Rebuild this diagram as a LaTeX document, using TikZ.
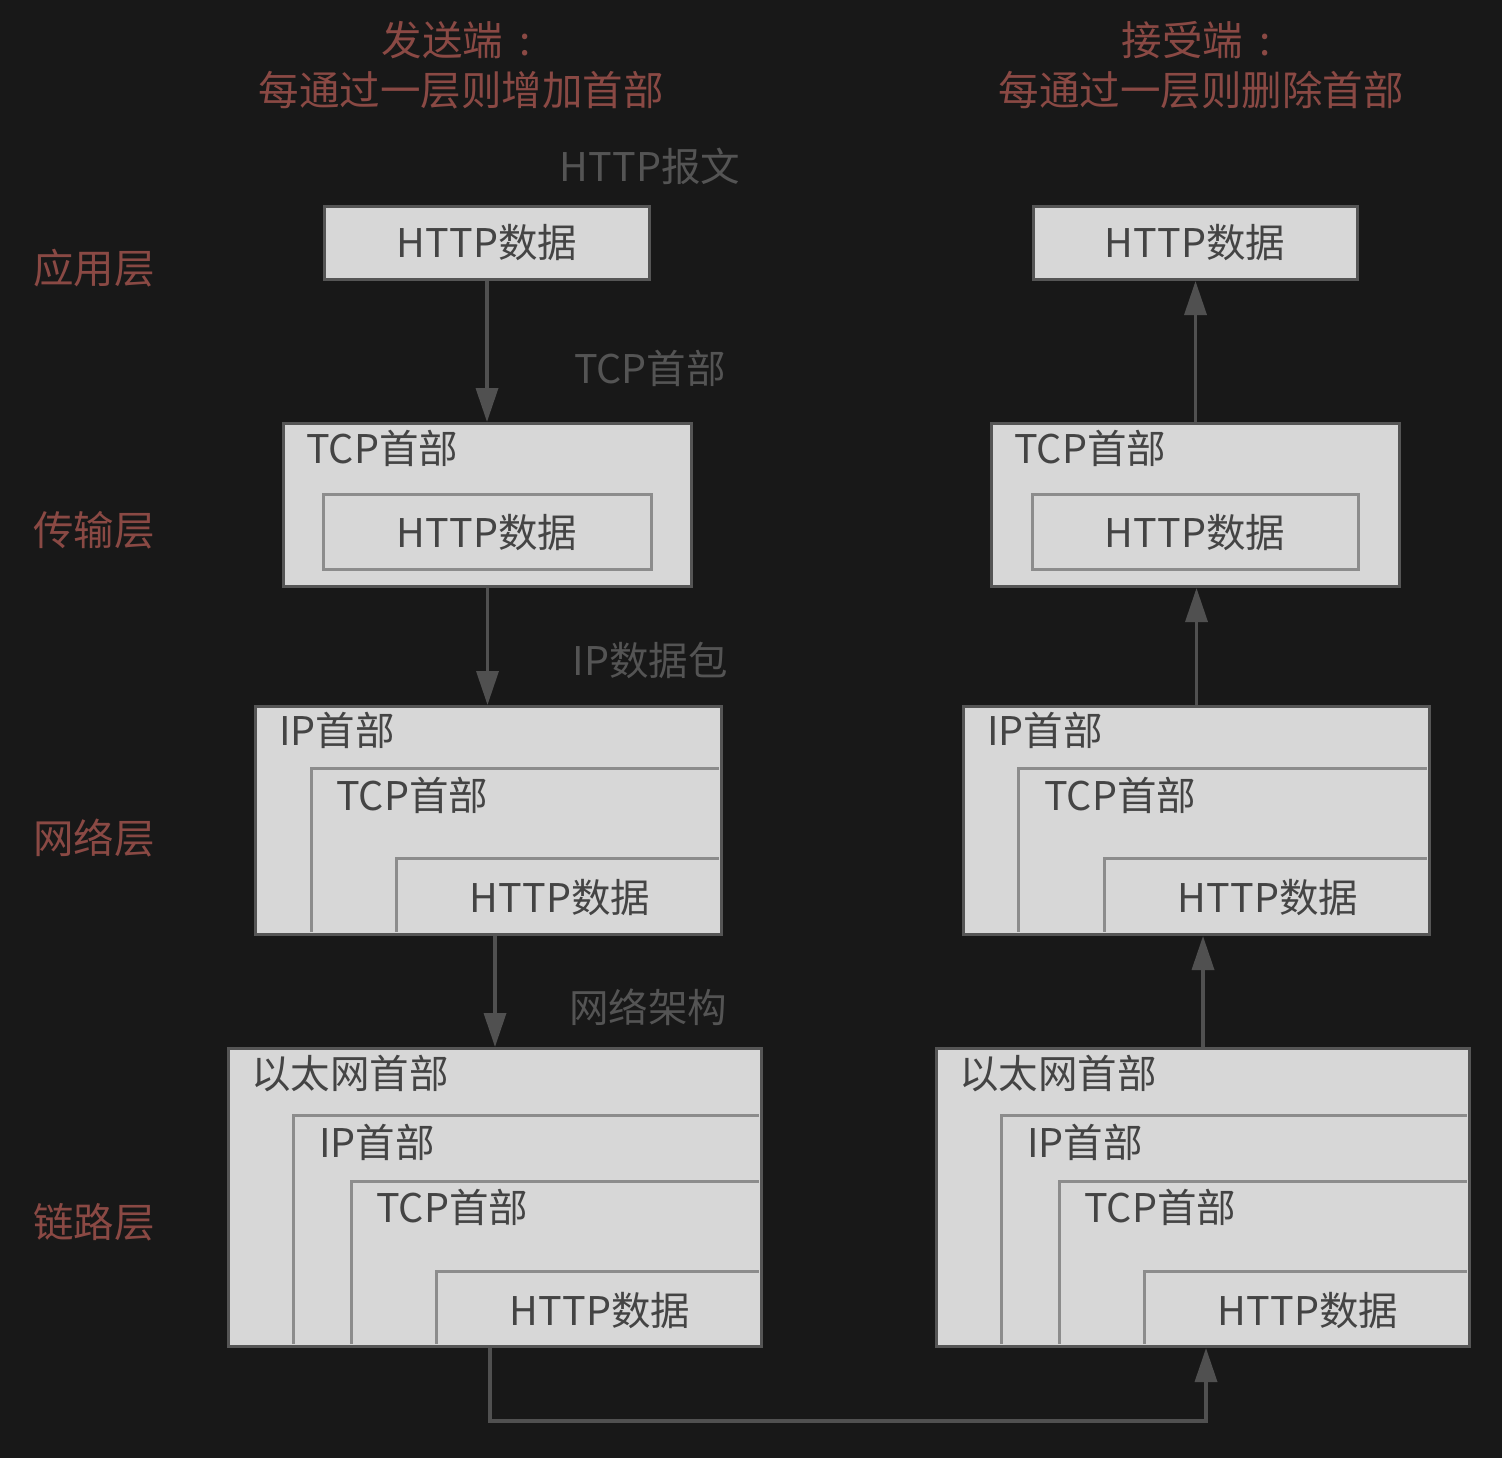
\documentclass[tikz,border=0pt]{standalone}
\usepackage{fontspec}
\setmainfont{Noto Sans CJK SC}
\usetikzlibrary{arrows.meta}
\definecolor{bgc}{HTML}{181818}
\definecolor{boxfill}{HTML}{D7D7D7}
\definecolor{boxline}{HTML}{555555}
\definecolor{innerline}{HTML}{8C8C8C}
\definecolor{boxtext}{HTML}{444444}
\definecolor{redtext}{HTML}{8A4944}
\definecolor{graytext}{HTML}{545454}
\definecolor{arrowc}{HTML}{505050}
\tikzset{
  pkt/.style={fill=boxfill, draw=boxline, line width=3pt, inner sep=0pt, anchor=north west},
  innerbox/.style={fill=boxfill, draw=innerline, line width=3pt, inner sep=0pt, anchor=north west},
  innerl/.style={draw=innerline, line width=3pt},
  btxt/.style={text=boxtext, font=\fontsize{39.5}{42}\selectfont, inner sep=0pt, text height=0.8em, text depth=0.14em, yshift=-12pt},
  redlbl/.style={text=redtext, font=\fontsize{40.5}{43}\selectfont, inner sep=0pt, text height=0.8em, text depth=0.14em, yshift=-12pt},
  graylbl/.style={text=graytext, font=\fontsize{39.5}{42}\selectfont, inner sep=0pt, text height=0.8em, text depth=0.14em, yshift=-12pt},
  arr/.style={draw=arrowc, line width=3.5pt, -{Triangle[width=22pt,length=34pt]}, arrowc}
}
\begin{document}
\begin{tikzpicture}[x=1pt,y=-1pt]
\fill[bgc] (0,0) rectangle (1502,1458);
\useasboundingbox (0,0) rectangle (1502,1458);

% titles
\node[redlbl] (t1a) at (456,40) {发送端\hspace{0.4em}:};
\node[redlbl] (t1b) at (461,90) {每通过一层则增加首部};
\node[redlbl] (t2a) at (1196,40) {接受端\hspace{0.4em}:};
\node[redlbl] (t2b) at (1201,90) {每通过一层则删除首部};

% layer labels
\node[redlbl, anchor=west] (la1) at (33,268) {应用层};
\node[redlbl, anchor=west] (la2) at (33,530) {传输层};
\node[redlbl, anchor=west] (la3) at (33,838) {网络层};
\node[redlbl, anchor=west] (la4) at (33,1222) {链路层};

% gray labels
\node[graylbl] (g1) at (650,166) {HTTP报文};
\node[graylbl] (g2) at (650,368) {TCP首部};
\node[graylbl] (g3) at (650,660) {IP数据包};
\node[graylbl] (g4) at (648,1007) {网络架构};

% ===== left column =====
\node[pkt, minimum width=325pt, minimum height=73pt] (appL) at (323,205) {};
\node[btxt] (appLt) at (487,242) {HTTP数据};

\node[pkt, minimum width=408pt, minimum height=163pt] (trL) at (282,422) {};
\node[btxt, anchor=west] (trLh) at (306,448) {TCP首部};
\node[innerbox, minimum width=328pt, minimum height=75pt] (trLi) at (322,493) {};
\node[btxt] (trLt) at (487,532) {HTTP数据};

\node[pkt, minimum width=466pt, minimum height=228pt] (netL) at (254,705) {};
\draw[innerl] (311,931.5) |- (718.5,768);
\draw[innerl] (396,931.5) |- (718.5,858);
\node[btxt, anchor=west] (netLh1) at (279,730) {IP首部};
\node[btxt, anchor=west] (netLh2) at (336,795) {TCP首部};
\node[btxt] (netLt) at (560,897) {HTTP数据};

\node[pkt, minimum width=533pt, minimum height=298pt] (lnkL) at (227,1047) {};
\draw[innerl] (293,1343.5) |- (758.5,1115);
\draw[innerl] (351,1343.5) |- (758.5,1181);
\draw[innerl] (436,1343.5) |- (758.5,1271);
\node[btxt, anchor=west] (lnkLh1) at (251,1073) {以太网首部};
\node[btxt, anchor=west] (lnkLh2) at (319,1142) {IP首部};
\node[btxt, anchor=west] (lnkLh3) at (376,1207) {TCP首部};
\node[btxt] (lnkLt) at (600,1310) {HTTP数据};

% ===== right column =====
\node[pkt, minimum width=324pt, minimum height=73pt] (appR) at (1032,205) {};
\node[btxt] (appRt) at (1195,242) {HTTP数据};

\node[pkt, minimum width=408pt, minimum height=163pt] (trR) at (990,422) {};
\node[btxt, anchor=west] (trRh) at (1014,448) {TCP首部};
\node[innerbox, minimum width=326pt, minimum height=75pt] (trRi) at (1031,493) {};
\node[btxt] (trRt) at (1195,532) {HTTP数据};

\node[pkt, minimum width=466pt, minimum height=228pt] (netR) at (962,705) {};
\draw[innerl] (1018,931.5) |- (1426.5,768);
\draw[innerl] (1104,931.5) |- (1426.5,858);
\node[btxt, anchor=west] (netRh1) at (987,730) {IP首部};
\node[btxt, anchor=west] (netRh2) at (1044,795) {TCP首部};
\node[btxt] (netRt) at (1268,897) {HTTP数据};

\node[pkt, minimum width=533pt, minimum height=298pt] (lnkR) at (935,1047) {};
\draw[innerl] (1001,1343.5) |- (1466.5,1115);
\draw[innerl] (1059,1343.5) |- (1466.5,1181);
\draw[innerl] (1144,1343.5) |- (1466.5,1271);
\node[btxt, anchor=west] (lnkRh1) at (959,1073) {以太网首部};
\node[btxt, anchor=west] (lnkRh2) at (1027,1142) {IP首部};
\node[btxt, anchor=west] (lnkRh3) at (1084,1207) {TCP首部};
\node[btxt] (lnkRt) at (1308,1310) {HTTP数据};

% ===== arrows =====
\draw[arr] (appL.south) -- (appL.south |- trL.north);
\draw[arr] (trL.south) -- (trL.south |- netL.north);
\draw[arr] (netL.south -| lnkL.north) -- (lnkL.north);
\coordinate (bend) at (490,1421);
\draw[arr] (lnkL.south -| bend) -- (bend) -| ([xshift=3pt]lnkR.south);

\draw[arr] (lnkR.north) -- (lnkR.north |- netR.south);
\draw[arr] (netR.north) -- (netR.north |- trR.south);
\draw[arr] (trR.north) -- (trR.north |- appR.south);
\end{tikzpicture}
\end{document}
